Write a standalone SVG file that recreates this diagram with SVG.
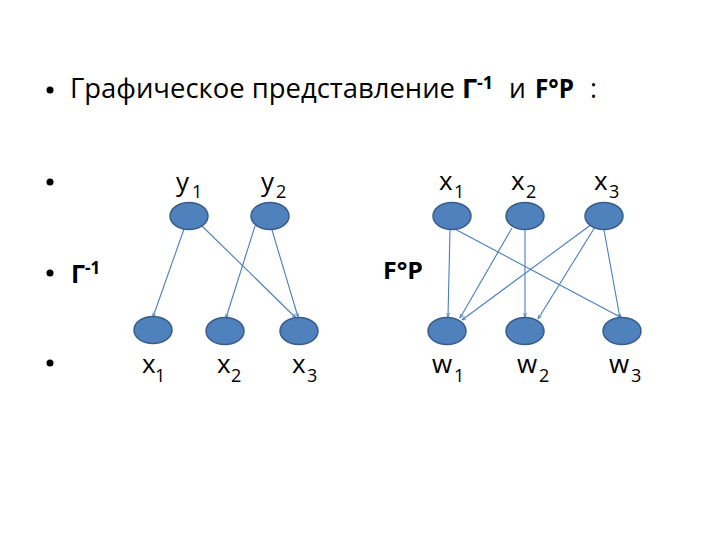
<svg xmlns="http://www.w3.org/2000/svg" width="720" height="540" viewBox="0 0 720 540">
<defs>
<style>
text{font-family:"Open Sans","DejaVu Sans",sans-serif;fill:#000}
.h{font-size:26.5px}
.b{font-weight:bold}
.lab{font-size:26px}
.sub{font-size:18px}
.node{fill:#4F81BD;stroke:#385D8A;stroke-width:1.5}
.edge{stroke:#4A7EBB;stroke-width:1.1;fill:none;marker-end:url(#ah)}
</style>
<marker id="ah" viewBox="0 0 6 6" refX="5.5" refY="3" markerWidth="4.5" markerHeight="4.5" orient="auto" markerUnits="userSpaceOnUse">
<path d="M0,0.8 L5.5,3 L0,5.2" fill="none" stroke="#4A7EBB" stroke-width="1"/>
</marker>
</defs>
<rect width="720" height="540" fill="#fff"/>
<g id="bullets">
<circle cx="50" cy="90" r="3.5"/>
<circle cx="50" cy="182" r="3.5"/>
<circle cx="50" cy="273" r="3.5"/>
<circle cx="50" cy="363" r="3.5"/>
</g>
<g id="title">
<text class="h" x="70" y="98" textLength="385" lengthAdjust="spacingAndGlyphs">Графическое представление</text>
<text class="b" x="462" y="98" font-size="27">Г</text>
<text class="b" x="477" y="89" font-size="18">-1</text>
<text class="h" x="509" y="98">и</text>
<text class="b" x="535" y="98" font-size="27" textLength="39" lengthAdjust="spacingAndGlyphs">F°P</text>
<text class="h" x="590" y="98">:</text>
</g>
<g id="label-gamma">
<text class="b" x="71" y="283" font-size="25">Г</text>
<text class="b" x="85" y="274" font-size="17">-1</text>
</g>
<g id="label-fp">
<text class="b" x="383" y="279" font-size="24" textLength="40" lengthAdjust="spacingAndGlyphs">F°P</text>
</g>
<g id="connectors">
<line class="edge" x1="184" y1="229" x2="153" y2="317"/>
<line class="edge" x1="202" y1="226" x2="296" y2="318"/>
<line class="edge" x1="255" y1="226" x2="226" y2="318"/>
<line class="edge" x1="272" y1="230" x2="298" y2="317"/>
<line class="edge" x1="450" y1="230" x2="448" y2="317"/>
<line class="edge" x1="453" y1="228" x2="622" y2="318"/>
<line class="edge" x1="512" y1="228" x2="460" y2="318"/>
<line class="edge" x1="525" y1="230" x2="525" y2="317"/>
<line class="edge" x1="592" y1="224" x2="462" y2="320"/>
<line class="edge" x1="595" y1="227" x2="538" y2="319"/>
<line class="edge" x1="604" y1="230" x2="620" y2="318"/>
</g>
<g id="L-y1"><ellipse class="node" cx="189" cy="216" rx="19" ry="13.5"/><text class="lab" x="176" y="191">y</text><text class="sub" x="192" y="198">1</text></g>
<g id="L-y2"><ellipse class="node" cx="270" cy="216" rx="19" ry="13.5"/><text class="lab" x="261" y="191">y</text><text class="sub" x="276" y="198">2</text></g>
<g id="L-x1"><ellipse class="node" cx="153" cy="330" rx="19" ry="13.5"/><text class="lab" x="142" y="373">x</text><text class="sub" x="155" y="382">1</text></g>
<g id="L-x2"><ellipse class="node" cx="225" cy="331" rx="19" ry="13.5"/><text class="lab" x="217" y="373">x</text><text class="sub" x="231" y="382">2</text></g>
<g id="L-x3"><ellipse class="node" cx="299" cy="331" rx="19" ry="13.5"/><text class="lab" x="292" y="373">x</text><text class="sub" x="307" y="382">3</text></g>
<g id="R-x1"><ellipse class="node" cx="452" cy="216" rx="19" ry="13.5"/><text class="lab" x="439" y="190">x</text><text class="sub" x="454" y="198">1</text></g>
<g id="R-x2"><ellipse class="node" cx="525" cy="216" rx="19" ry="13.5"/><text class="lab" x="511" y="190">x</text><text class="sub" x="526" y="198">2</text></g>
<g id="R-x3"><ellipse class="node" cx="604" cy="216" rx="19" ry="13.5"/><text class="lab" x="594" y="190">x</text><text class="sub" x="609" y="198">3</text></g>
<g id="R-w1"><ellipse class="node" cx="447" cy="331" rx="19" ry="13.5"/><text class="lab" x="432" y="373">w</text><text class="sub" x="454" y="382">1</text></g>
<g id="R-w2"><ellipse class="node" cx="525" cy="331" rx="19" ry="13.5"/><text class="lab" x="517" y="373">w</text><text class="sub" x="539" y="382">2</text></g>
<g id="R-w3"><ellipse class="node" cx="622" cy="331" rx="19" ry="13.5"/><text class="lab" x="609" y="373">w</text><text class="sub" x="631" y="382">3</text></g>
</svg>
